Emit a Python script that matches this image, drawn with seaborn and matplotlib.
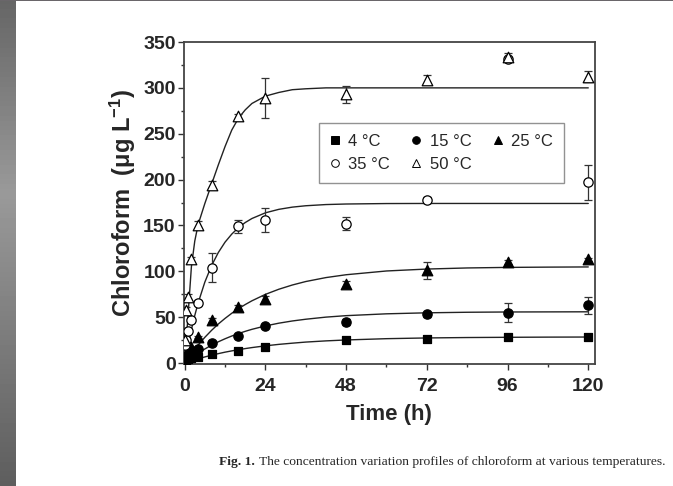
import numpy as np
import pandas as pd
import matplotlib
matplotlib.use("Agg")
import matplotlib.pyplot as plt
from matplotlib.lines import Line2D
from matplotlib.patches import Rectangle
from matplotlib.ticker import MultipleLocator
import seaborn as sns

time_h = [0, 0.5, 1, 2, 4, 8, 16, 24, 48, 72, 96, 120]
conc_4 = [1, 3, 4, 6, 7, 10, 13, 17, 25, 26.5, 28, 28]
conc_15 = [2, 6, 9, 12, 15, 22, 30, 40, 45, 53, 55, 63]
conc_25 = [3, 10, 14, 18, 28, 47, 61, 70, 86, 101, 110, 113]
conc_35 = [20, 25, 35, 47, 66, 104, 149, 156, 152, 178, 332, 197]
conc_50 = [25, 58, 72, 113, 151, 194, 269, 289, 293, 309, 334, 312]

err_4 = [0, 0, 0, 0, 0, 1, 1, 2, 1, 1, 1, 1]
err_15 = [0, 0, 0, 0, 1, 2, 2, 2, 3, 3, 10, 9]
err_25 = [0, 0, 0, 0, 1, 2, 2, 3, 3, 9, 2, 2]
err_35 = [0, 2, 2, 2, 3, 16, 7, 13, 7, 3, 2, 19]
err_50 = [2, 3, 3, 3, 4, 4, 3, 22, 9, 5, 4, 6]

# fitted curves
fit_t = [0, 1, 2, 3, 4, 6, 8, 10, 12, 14, 16, 18, 20, 24, 28, 32, 36, 42, 48,
         60, 72, 84, 96, 108, 120]
fit_4 = [0, 1.25, 2.45, 3.6, 4.7, 6.7, 8.6, 10.3, 11.9, 13.3, 14.6, 15.8, 16.9,
         18.8, 20.4, 21.7, 22.9, 24.2, 25.2, 26.6, 27.4, 27.85, 28.1, 28.3, 28.4]
fit_15 = [0, 2.9, 5.7, 8.3, 10.8, 15.4, 19.5, 23.2, 26.5, 29.5, 32.2, 34.6, 36.8,
          40.5, 43.5, 45.9, 47.8, 50.1, 51.7, 53.7, 54.8, 55.4, 55.7, 55.8, 55.9]
fit_25 = [0, 5.3, 10.4, 15.2, 19.7, 28.1, 35.7, 42.6, 48.7, 54.3, 59.3, 63.8, 67.9,
          74.9, 80.5, 85.1, 88.9, 93.2, 96.3, 100.4, 102.5, 103.7, 104.3, 104.6, 104.8]
fit_35 = [0, 19.4, 36.6, 51.9, 65.5, 88.3, 106.3, 120.5, 131.8, 140.6, 147.7, 153.2,
          157.6, 163.8, 167.6, 170.0, 171.5, 172.8, 173.4, 173.9, 174, 174, 174, 174, 174]
fit_50 = [0, 52, 105, 133, 151, 174, 195, 216, 236, 254, 267, 276, 283,
          291, 295, 298, 299, 300, 300, 300, 300, 300, 300, 300, 300]

labels = ["4 \u00b0C", "15 \u00b0C", "25 \u00b0C", "35 \u00b0C", "50 \u00b0C"]
markers = ["s", "o", "^", "o", "^"]
msize = [32, 45, 58, 45, 58]
filled = [True, True, True, False, False]

conc = [conc_4, conc_15, conc_25, conc_35, conc_50]
errs = [err_4, err_15, err_25, err_35, err_50]
fits = [fit_4, fit_15, fit_25, fit_35, fit_50]

sns.set_style("ticks")
plt.rcParams["font.family"] = ["Liberation Sans", "DejaVu Sans"]
plt.rcParams["mathtext.fontset"] = "custom"
plt.rcParams["mathtext.rm"] = "Liberation Sans:bold"
plt.rcParams["mathtext.default"] = "rm"

fig = plt.figure(figsize=(6.73, 4.86), dpi=100)
fig.patch.set_facecolor("white")

# gray band on the left edge and thin line on top
band = fig.add_axes([0, 0, 16 / 673, 1])
grad = np.concatenate([np.linspace(0.40, 0.60, 40), np.linspace(0.60, 0.37, 60)])
band.imshow(grad[:, None], cmap="gray", vmin=0, vmax=1, aspect="auto")
band.axis("off")
fig.add_artist(Rectangle((0, 1 - 1.5 / 486), 1, 1.5 / 486, transform=fig.transFigure,
                         color="#6a666a", lw=0))

ax = fig.add_axes([184 / 673, 1 - 364 / 486, 411 / 673, 322 / 486])

for i in range(5):
    fit_df = pd.DataFrame({"t": fit_t, "c": fits[i]})
    sns.lineplot(data=fit_df, x="t", y="c", color="#222222", lw=1.0, ax=ax, zorder=2)

for i in range(5):
    ax.errorbar(time_h, conc[i], yerr=errs[i], fmt="none", ecolor="#333333",
                elinewidth=0.9, capsize=3, capthick=0.9, zorder=3)
    pts = pd.DataFrame({"t": time_h, "c": conc[i]})
    face = "black" if filled[i] else "white"
    sns.scatterplot(data=pts, x="t", y="c", marker=markers[i], s=msize[i],
                    facecolor=face, edgecolor="black", linewidth=0.9,
                    ax=ax, zorder=4)

ax.set_xlim(-0.2, 122)
ax.set_ylim(-1, 350)
ax.xaxis.set_major_locator(MultipleLocator(24))
ax.xaxis.set_minor_locator(MultipleLocator(12))
ax.yaxis.set_major_locator(MultipleLocator(50))
ax.yaxis.set_minor_locator(MultipleLocator(25))
ax.tick_params(which="major", direction="out", length=4, width=1, labelsize=14,
               color="#333333", pad=2)
ax.tick_params(axis="x", which="major", pad=6)
ax.tick_params(which="minor", direction="out", length=2.5, width=1, color="#333333")
for lab in ax.get_xticklabels() + ax.get_yticklabels():
    lab.set_fontweight("bold")
for sp in ax.spines.values():
    sp.set_visible(True)
    sp.set_color("#444444")
    sp.set_linewidth(1.3)

ax.set_xlabel("Time (h)", fontsize=16, fontweight="bold")
ax.xaxis.set_label_coords(0.499, -0.158)
ax.xaxis.label.set_va("center")
ax.set_ylabel("Chloroform  (\u03bcg L$^{-1}$)", fontsize=17, fontweight="bold")
ax.yaxis.set_label_coords(-0.148, 0.5)
ax.yaxis.label.set_va("center")

# legend laid out row by row: 4, 15, 25 / 35, 50
handles = []
for i in range(5):
    face = "black" if filled[i] else "white"
    handles.append(Line2D([], [], ls="none", marker=markers[i], markersize=5.5,
                          markerfacecolor=face, markeredgecolor="black",
                          markeredgewidth=0.7))
order = [0, 3, 1, 4, 2]
leg = ax.legend([handles[k] for k in order], [labels[k] for k in order],
                ncol=3, loc="upper left", bbox_to_anchor=(0.328, 0.748),
                borderaxespad=0, fontsize=12, frameon=True, fancybox=False,
                handlelength=0.6, handletextpad=0.5, columnspacing=1.3,
                labelspacing=0.5, borderpad=0.65)
leg.get_frame().set_edgecolor("#777777")
leg.get_frame().set_linewidth(1.0)

t1 = fig.text(219 / 673, 1 - 462 / 486, "Fig. 1.", fontsize=9.7,
              fontweight="bold", family="Liberation Serif", ha="left", va="center")
fig.canvas.draw()
bb = t1.get_window_extent()
fig.text((bb.x1 + 4) / 673, 1 - 462 / 486,
         "The concentration variation profiles of chloroform at various temperatures.",
         fontsize=9.7, family="Liberation Serif", ha="left", va="center")

fig.savefig("out.png", dpi=100, facecolor="white")
